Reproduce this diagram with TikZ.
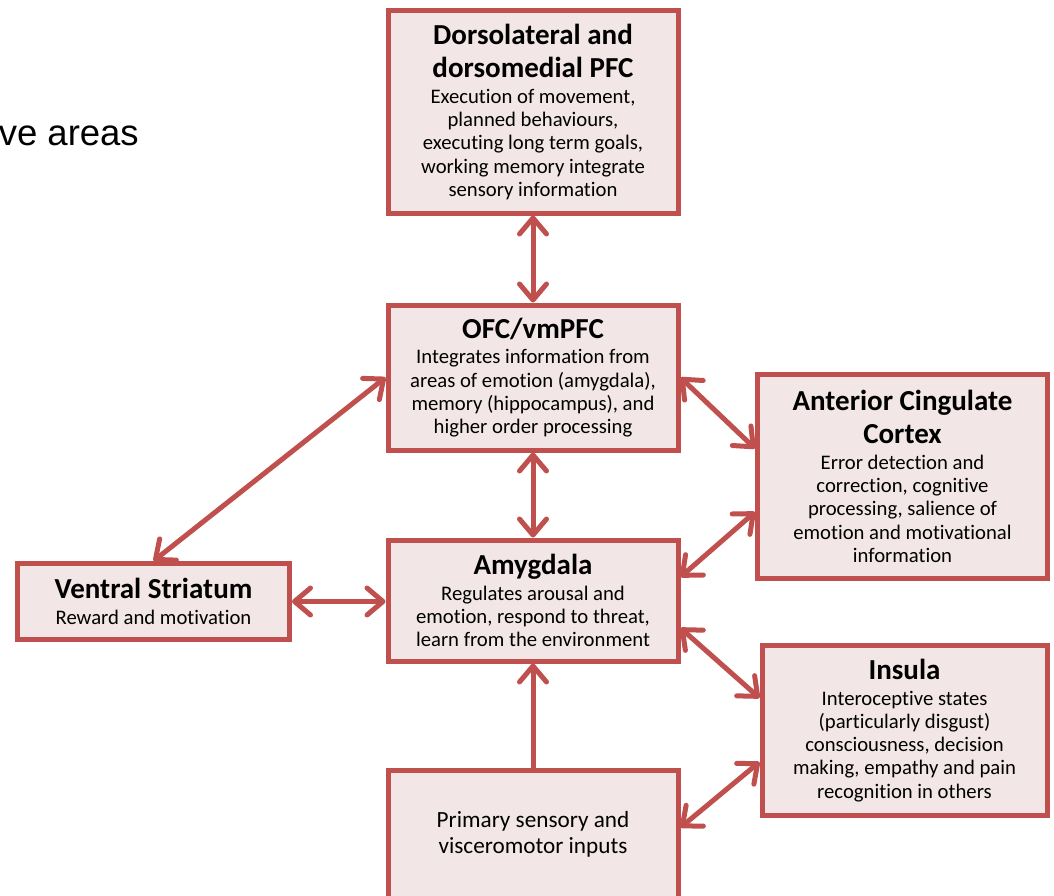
\documentclass[tikz,border=0pt]{standalone}
\usepackage{fontspec}
\setmainfont{Carlito}[Ligatures={NoCommon}]
\newfontfamily\arialf{Liberation Sans}
\usetikzlibrary{arrows.meta,calc}
\definecolor{bord}{HTML}{C0504D}
\definecolor{boxfill}{HTML}{F2E6E6}
\newcommand\ttlf{\fontsize{29}{33}\selectfont\bfseries}
\newcommand\bodyf{\fontsize{20.7}{23.2}\selectfont}
\newcommand\bx[2]{{\ttlf #1\par}\vspace{2.5pt}{\bodyf #2\par}}
\tikzset{chev/.tip={Straight Barb[length=16pt,width=27pt,round]}}
\begin{document}
\begin{tikzpicture}[x=1pt,y=-1pt,
  box/.style={draw=bord, fill=boxfill, line width=5pt, align=flush center, inner sep=0pt, text=black},
  link/.style={draw=bord, line width=5pt, line cap=round}]
\useasboundingbox (0,0) rectangle (1054,896);

\node[font=\arialf\fontsize{36.5}{40}\selectfont, anchor=base east, inner sep=0pt] (va) at (139,146) {ve areas};

\node[box, minimum width=290pt, minimum height=202pt, text width=284pt] (dl) at (533,112)
  {\bx{Dorsolateral and\\dorsomedial PFC}{Execution of movement,\\planned behaviours,\\executing long term goals,\\working memory integrate\\sensory information}};
\node[box, minimum width=290pt, minimum height=145pt, text width=284pt] (ofc) at (533,377.5)
  {\bx{OFC/vmPFC}{Integrates information from\\areas of emotion (amygdala),\\memory (hippocampus), and\\higher order processing}};
\node[box, minimum width=290pt, minimum height=204pt, text width=284pt] (acc) at (902.5,476.5)
  {\bx{Anterior Cingulate\\Cortex}{Error detection and\\correction, cognitive\\processing, salience of\\emotion and motivational\\information}};
\node[box, minimum width=290pt, minimum height=121pt, text width=284pt] (amy) at (533,600.5)
  {\bx{Amygdala}{Regulates arousal and\\emotion, respond to threat,\\learn from the environment}};
\node[box, minimum width=272pt, minimum height=76pt, text width=266pt] (vs) at (153.5,601.5)
  {\bx{Ventral Striatum}{Reward and motivation}};
\node[box, minimum width=285pt, minimum height=170pt, text width=279pt] (ins) at (904.5,730.5)
  {\bx{Insula}{Interoceptive states\\(particularly disgust)\\consciousness, decision\\making, empathy and pain\\recognition in others}};
\node[box, minimum width=290pt, minimum height=129pt, text width=284pt, font=\fontsize{23.2}{26}\selectfont] (pri) at (533,834.5)
  {Primary sensory and\\visceromotor inputs\par};

\draw[link, chev-chev] (dl.south) -- (ofc.north);
\draw[link, chev-chev] (ofc.south) -- (amy.north);
\draw[link, chev-chev] (ofc.west) -- (vs.north);
\draw[link, chev-chev] (vs.east) -- (vs.east -| amy.west);
\draw[link, chev-chev] (ofc.east) -- ($(acc.west)+(0,-28)$);
\draw[link, chev-chev] ($(amy.east)+(0,-23.5)$) -- ($(acc.west)+(0,35.5)$);
\draw[link, chev-chev] ($(amy.east)+(0,27.5)$) -- ($(ins.west)+(0,-32.5)$);
\draw[link, chev-chev] ($(pri.east)+(0,-7)$) -- ($(ins.west)+(0,31.5)$);
\draw[link, -chev] (pri.north) -- (amy.south);
\end{tikzpicture}
\end{document}
